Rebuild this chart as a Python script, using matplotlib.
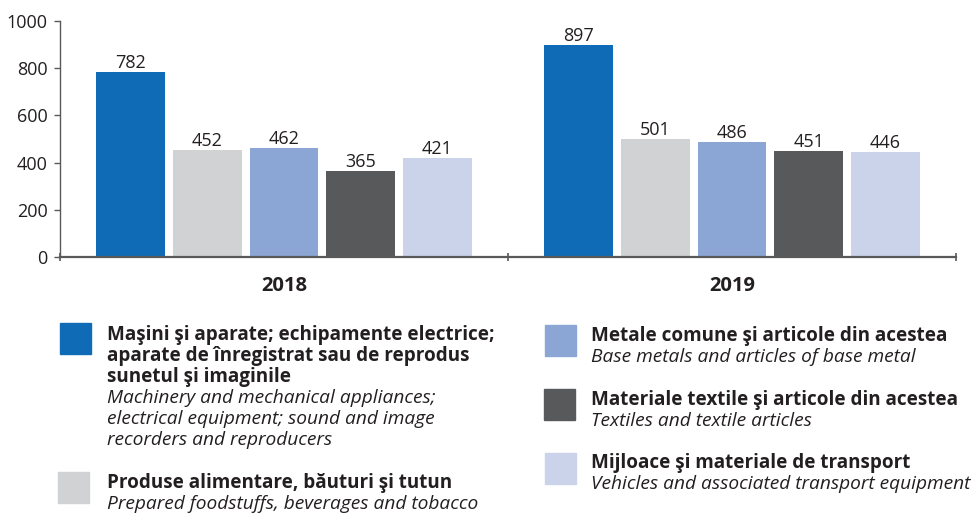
import numpy as np
import matplotlib.pyplot as plt
from matplotlib.patches import Rectangle

plt.rcParams['font.family'] = ['Open Sans', 'DejaVu Sans']

years = ['2018', '2019']
values = {
    'masini': [782, 897],
    'alimentare': [452, 501],
    'metale': [462, 486],
    'textile': [365, 451],
    'transport': [421, 446],
}
colors = ['#0f6bb5', '#d1d2d4', '#8ba5d4', '#58595b', '#cbd3eb']

# legend texts: (bold romanian lines, italic english lines)
legend_items = [
    (['Maşini şi aparate; echipamente electrice;',
      'aparate de înregistrat sau de reprodus',
      'sunetul şi imaginile'],
     ['Machinery and mechanical appliances;',
      'electrical equipment; sound and image',
      'recorders and reproducers']),
    (['Produse alimentare, băuturi şi tutun'],
     ['Prepared foodstuffs, beverages and tobacco']),
    (['Metale comune şi articole din acestea'],
     ['Base metals and articles of base metal']),
    (['Materiale textile şi articole din acestea'],
     ['Textiles and textile articles']),
    (['Mijloace şi materiale de transport'],
     ['Vehicles and associated transport equipment']),
]

W, H = 976, 514
fig = plt.figure(figsize=(W / 100, H / 100), dpi=100)
ax = fig.add_axes([60 / W, (H - 257) / H, 896 / W, 236 / H])

text_col = '#231f20'
axis_col = '#58595b'
x = np.arange(len(years))
bw = 0.154
step = 0.171
for i, (key, vals) in enumerate(values.items()):
    bars = ax.bar(x + (i - 2) * step, vals, width=bw, color=colors[i], zorder=2)
    ax.bar_label(bars, padding=0, fontsize=13, color=text_col)

ax.set_xlim(-0.5, 1.5)
ax.set_ylim(0, 1000)
ax.set_yticks(range(0, 1001, 200))
ax.set_xticks(x)
ax.set_xticklabels(years, fontweight='bold', fontsize=14.5)
ax.tick_params(axis='x', length=0, pad=14, colors=text_col)
ax.set_xticks([-0.5, 0.5, 1.5], minor=True)
ax.tick_params(axis='x', which='minor', direction='inout', length=6,
               width=1.2, color=axis_col)
ax.tick_params(axis='y', length=4, width=1, pad=5, labelsize=13,
               colors=text_col, color=axis_col)
for s in ['top', 'right']:
    ax.spines[s].set_visible(False)
ax.spines['left'].set_color(axis_col)
ax.spines['left'].set_linewidth(1)
ax.spines['bottom'].set_color(axis_col)
ax.spines['bottom'].set_linewidth(1.6)
ax.spines['bottom'].set_zorder(3)

# legend, drawn in pixel coordinates
def px(xp, yp):
    return xp / W, 1 - yp / H

# (square x, square top, text x, first baseline)
legend_pos = [(60, 323, 107, 340), (58, 472, 107, 488),
              (545, 325, 591, 341), (544, 389, 591, 405), (545, 453, 591, 468)]
lh = 21
for (bold, ital), c, (sx, sy, tx, by) in zip(legend_items, colors, legend_pos):
    fig.patches.append(Rectangle(px(sx, sy + 31), 31 / W, 31 / H, color=c,
                                 transform=fig.transFigure, figure=fig))
    yb = by
    for line in bold:
        fig.text(*px(tx, yb), line, fontsize=13.6, fontweight='bold',
                 color=text_col, va='baseline')
        yb += lh
    for line in ital:
        fig.text(*px(tx, yb), line, fontsize=13.8, fontstyle='italic',
                 color=text_col, va='baseline')
        yb += lh

fig.savefig('out.png', dpi=100)
